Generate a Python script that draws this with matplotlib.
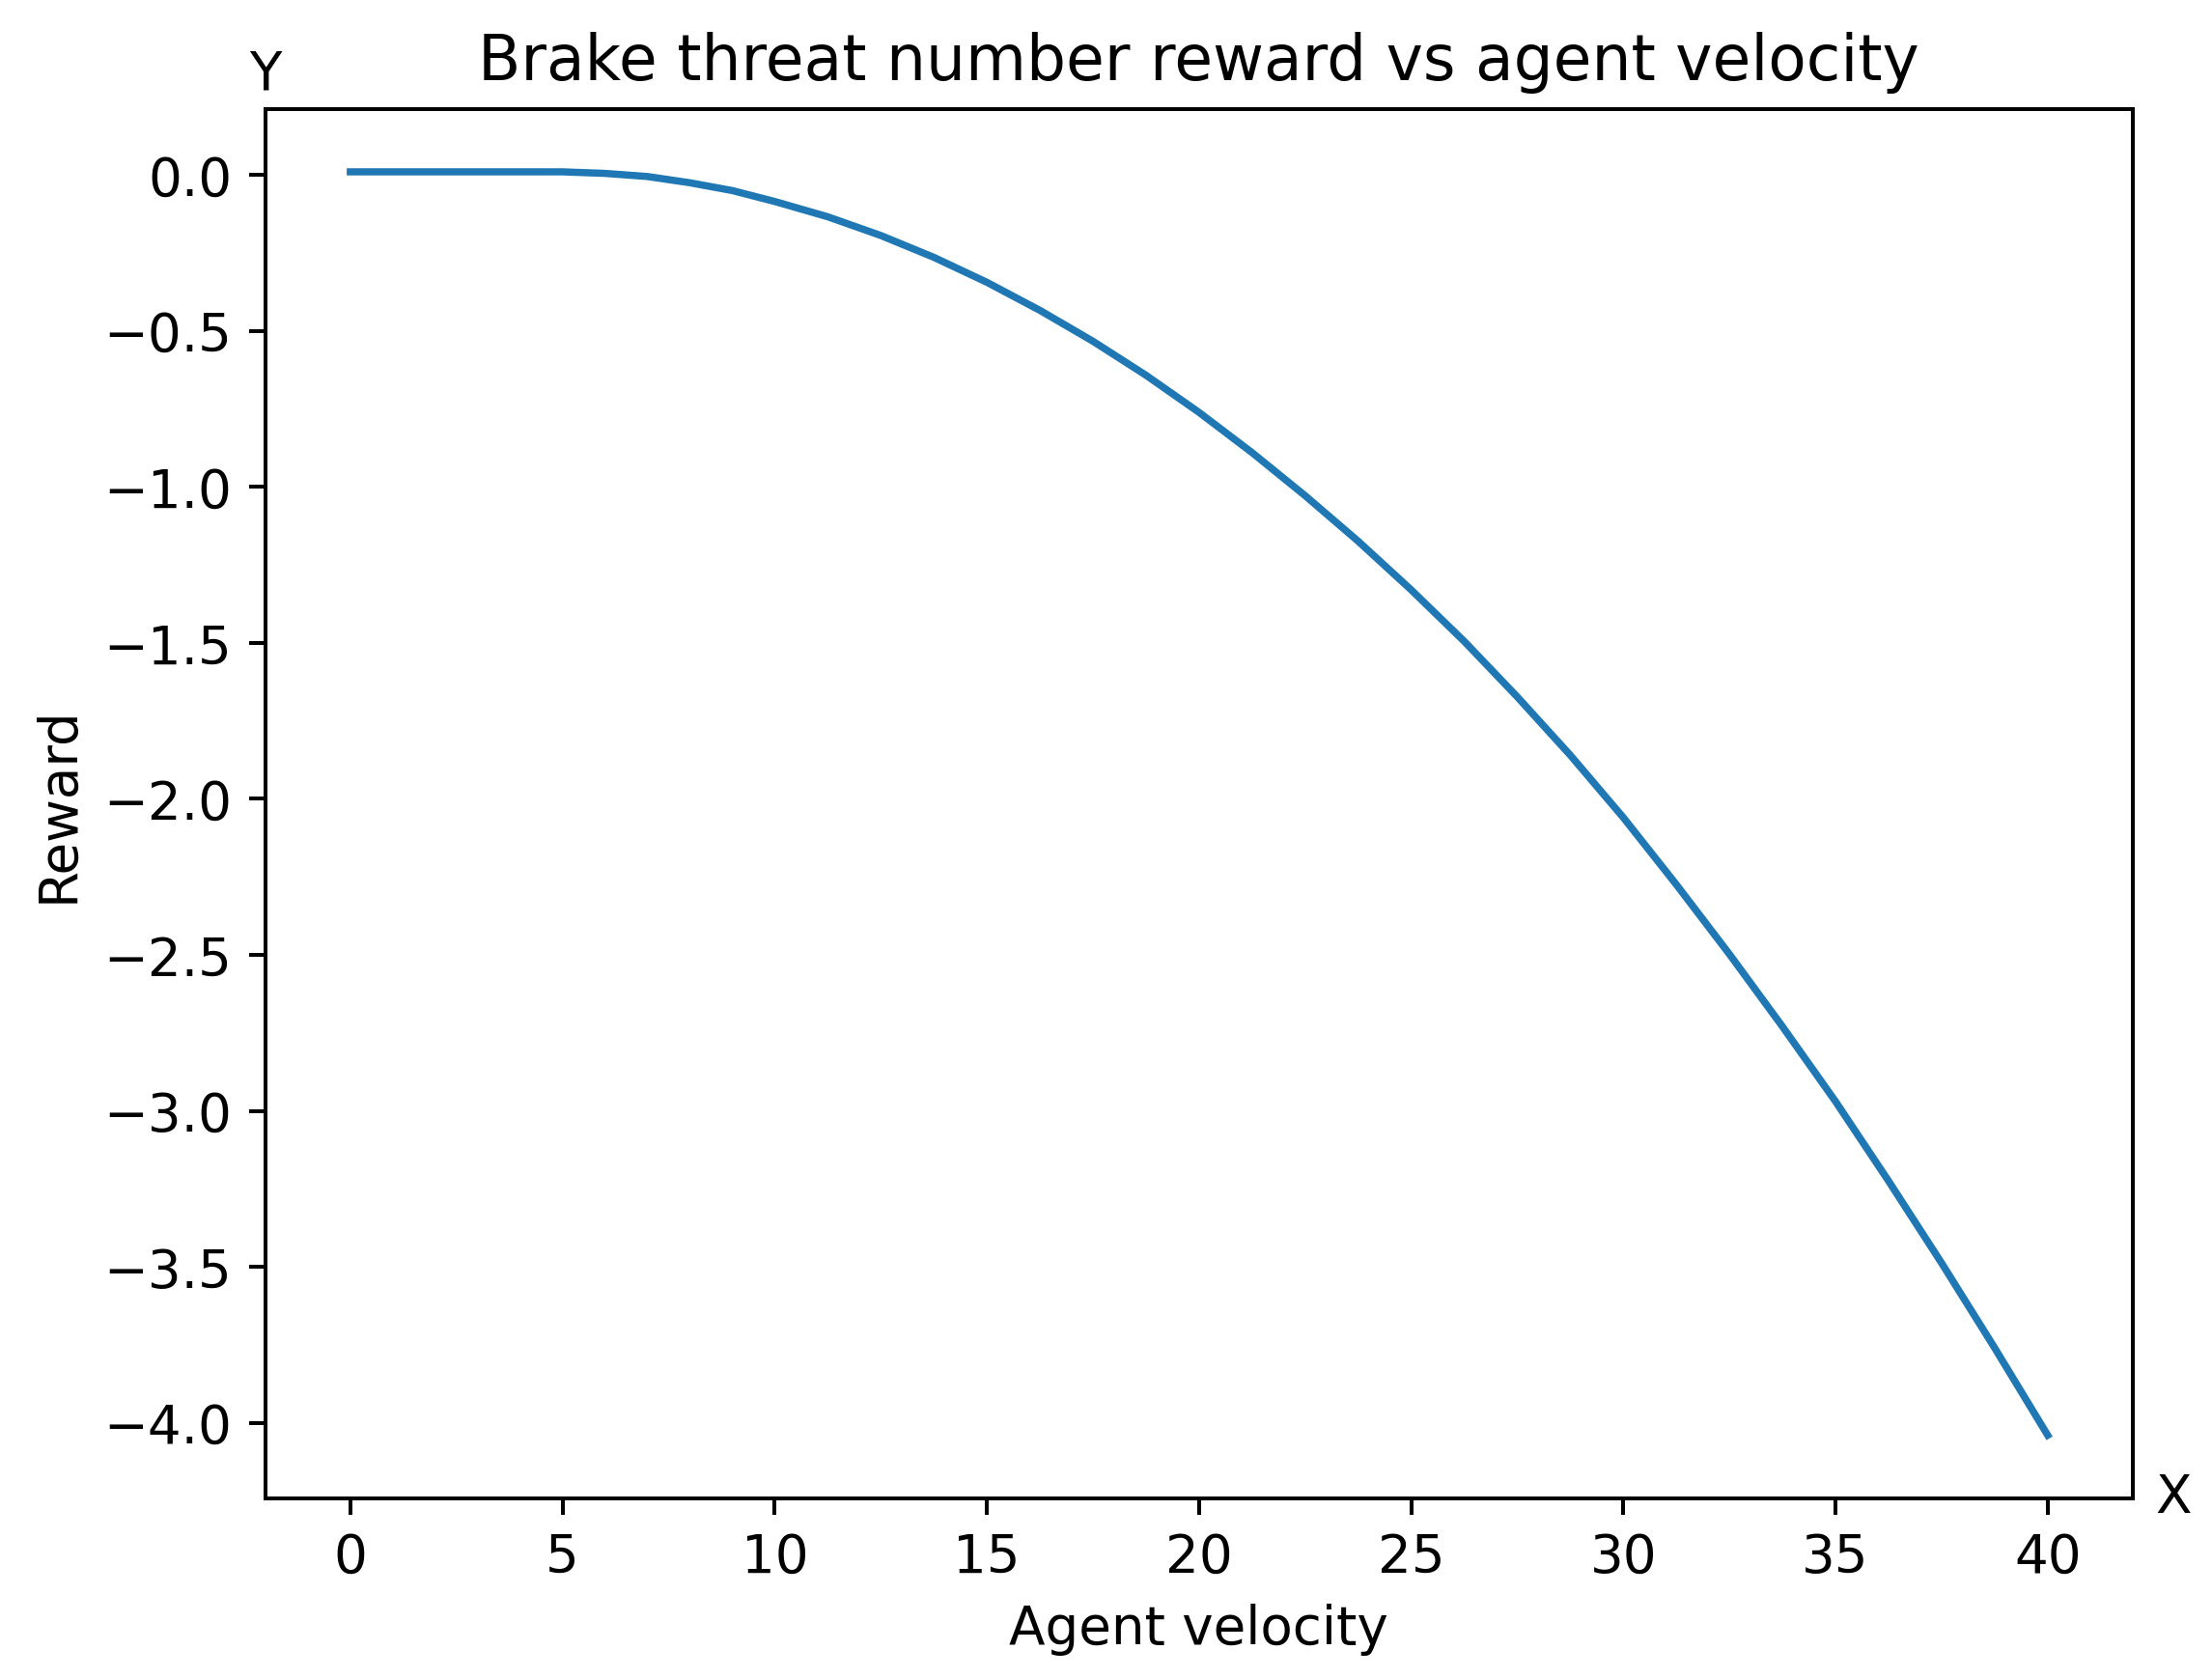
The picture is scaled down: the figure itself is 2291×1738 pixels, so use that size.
import matplotlib.pyplot as plt

# values
velocity = [0, 2.5, 5, 6, 7, 8, 9, 10, 11.25, 12.5, 13.75, 15, 16.25, 17.5,
            18.75, 20, 21.25, 22.5, 23.75, 25, 26.25, 27.5, 28.75, 30, 31.25,
            32.5, 33.75, 35, 36.25, 37.5, 38.75, 40]
reward = [0.01, 0.01, 0.01, 0.005, -0.005, -0.025, -0.05, -0.085, -0.134,
          -0.194, -0.264, -0.344, -0.434, -0.533, -0.642, -0.761, -0.89,
          -1.028, -1.174, -1.33, -1.495, -1.673, -1.86, -2.06, -2.275, -2.498,
          -2.73, -2.97, -3.225, -3.488, -3.76, -4.04]

fig = plt.figure(figsize=(6.4, 4.856), dpi=358)
ax = fig.add_axes([0.12, 0.107, 0.844, 0.828])

ax.plot(velocity, reward, color="tab:blue", linewidth=1.5)

ax.tick_params(labelsize=11)
ax.set_xlabel("Agent velocity", fontsize=11)
ax.set_ylabel("Reward", fontsize=11)
ax.set_title("Brake threat number reward vs agent velocity", fontsize=13)
ax.text(0.0, 1.025, "Y", transform=ax.transAxes, ha="center", va="center",
        fontsize=11)
ax.text(1.022, 0.0, "X", transform=ax.transAxes, ha="center", va="center",
        fontsize=11)

fig.savefig("out.png", dpi=358)
plt.close(fig)
